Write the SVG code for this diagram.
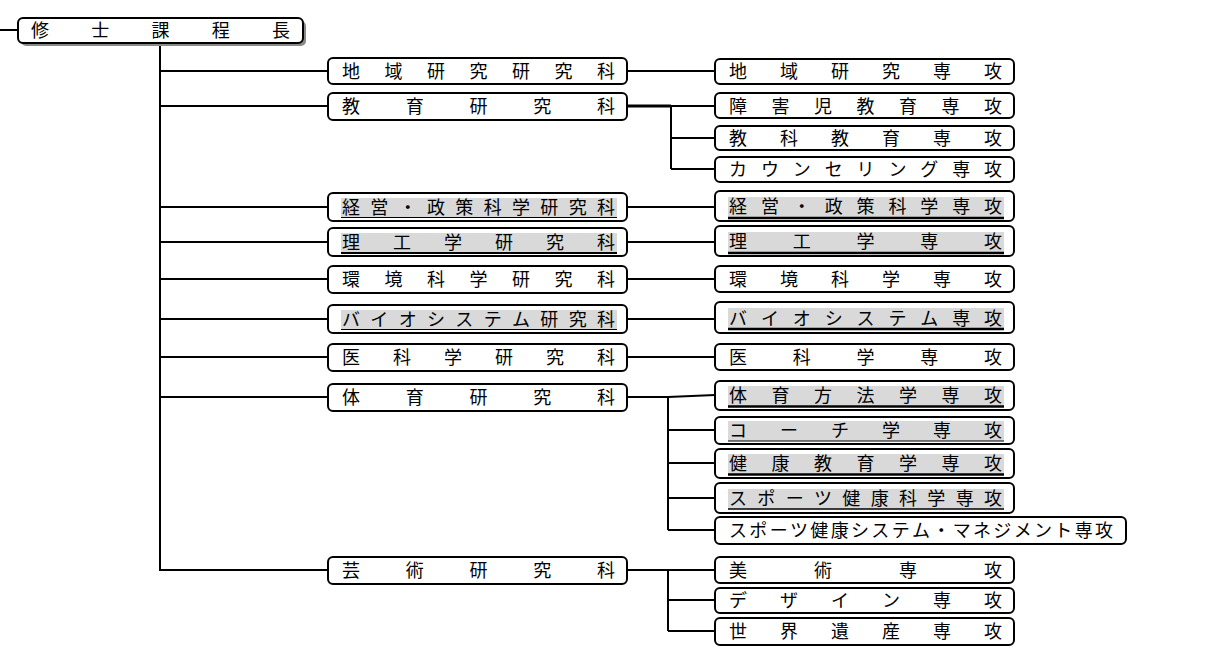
<svg xmlns="http://www.w3.org/2000/svg" width="1223" height="653" viewBox="0 0 1223 653">
<style>
.box{fill:#fff;stroke:#000;stroke-width:2}
.t{font-family:"Noto Sans CJK JP","Noto Sans CJK SC",sans-serif;font-size:18px;fill:#000}
.hl{fill:#d9d9d9}
.ul{stroke:#000}
.c{fill:none;stroke:#000;stroke-width:2}
</style>
<rect width="1223" height="653" fill="#fff"/>
<g id="connectors">
<path class="c" d="M0 30H18"/>
<path class="c" d="M160 43V570H328M160 71H328M160 106H328M160 207H328M160 242H328M160 279H328M160 319H328M160 357H328M160 397H328"/>
<path class="c" d="M627 71H715"/>
<path class="c" style="stroke-width:3" d="M627 106H671"/>
<path class="c" d="M671 106H715M671 106V169M671 138H715M671 169H715"/>
<path class="c" d="M627 207H715M627 242H715M627 279H715M627 319H715M627 357H715"/>
<path class="c" d="M627 397H668L715 395M668 396V530M668 430H715M668 463H715M668 498H715M668 530H715"/>
<path class="c" d="M627 570H715M668 570V631M668 600H715M668 631H715"/>
</g>
<g id="root">
<rect x="21" y="21" width="285" height="25" rx="5" fill="#8a8a8a"/>
<rect class="box" x="18" y="18" width="285" height="25" rx="5"/>
<text class="t" x="31 91.25 151.5 211.75 272" y="37">修士課程長</text>
</g>
<g id="n1">
<rect class="box" x="328" y="58" width="299" height="26" rx="5"/>
<text class="t" x="342 384.5 427 469.5 512 554.5 597" y="77.5">地域研究研究科</text>
</g>
<g id="n2">
<rect class="box" x="328" y="93" width="299" height="27" rx="5"/>
<text class="t" x="342 405.75 469.5 533.25 597" y="112.5">教育研究科</text>
</g>
<g id="n3">
<rect class="box" x="328" y="193" width="299" height="28" rx="5"/>
<rect class="hl" x="341" y="198" width="276" height="19"/>
<path class="ul" stroke-width="1.2" d="M341 217.5H617"/>
<text class="t" x="342 370.33 398.67 427 455.33 483.67 512 540.33 568.67 597" y="213.5">経営・政策科学研究科</text>
</g>
<g id="n4">
<rect class="box" x="328" y="228" width="299" height="28" rx="5"/>
<rect class="hl" x="341" y="233" width="276" height="19"/>
<path class="ul" stroke-width="2" d="M341 253H617"/>
<text class="t" x="342 393 444 495 546 597" y="248.5">理工学研究科</text>
</g>
<g id="n5">
<rect class="box" x="328" y="266" width="299" height="27" rx="5"/>
<text class="t" x="342 384.5 427 469.5 512 554.5 597" y="285.5">環境科学研究科</text>
</g>
<g id="n6">
<rect class="box" x="328" y="305" width="299" height="28" rx="5"/>
<rect class="hl" x="341" y="310" width="276" height="19"/>
<path class="ul" stroke-width="1.2" d="M341 329.5H617"/>
<text class="t" x="342 370.33 398.67 427 455.33 483.67 512 540.33 568.67 597" y="325.5">バイオシステム研究科</text>
</g>
<g id="n7">
<rect class="box" x="328" y="344" width="299" height="27" rx="5"/>
<text class="t" x="342 393 444 495 546 597" y="363.5">医科学研究科</text>
</g>
<g id="n8">
<rect class="box" x="328" y="384" width="299" height="27" rx="5"/>
<text class="t" x="342 405.75 469.5 533.25 597" y="403.5">体育研究科</text>
</g>
<g id="n9">
<rect class="box" x="328" y="557" width="299" height="27" rx="5"/>
<text class="t" x="342 405.75 469.5 533.25 597" y="576.5">芸術研究科</text>
</g>
<g id="m1">
<rect class="box" x="715" y="59" width="299" height="25" rx="5"/>
<text class="t" x="729 780 831 882 933 984" y="77.5">地域研究専攻</text>
</g>
<g id="m2">
<rect class="box" x="715" y="93" width="299" height="25" rx="5"/>
<text class="t" x="729 771.5 814 856.5 899 941.5 984" y="112.5">障害児教育専攻</text>
</g>
<g id="m3">
<rect class="box" x="715" y="126" width="299" height="24" rx="5"/>
<text class="t" x="729 780 831 882 933 984" y="144.5">教科教育専攻</text>
</g>
<g id="m4">
<rect class="box" x="715" y="157" width="299" height="25" rx="5"/>
<text class="t" x="729 760.875 792.75 824.625 856.5 888.375 920.25 952.125 984" y="175.5">カウンセリング専攻</text>
</g>
<g id="m5">
<rect class="box" x="715" y="191" width="299" height="30" rx="5"/>
<rect class="hl" x="728" y="197" width="276" height="20"/>
<path class="ul" stroke-width="2.5" d="M728 218H1004"/>
<text class="t" x="729 760.875 792.75 824.625 856.5 888.375 920.25 952.125 984" y="212.5">経営・政策科学専攻</text>
</g>
<g id="m6">
<rect class="box" x="715" y="226" width="299" height="30" rx="5"/>
<rect class="hl" x="728" y="232" width="276" height="20"/>
<path class="ul" stroke-width="2.5" d="M728 253H1004"/>
<text class="t" x="729 792.75 856.5 920.25 984" y="247.5">理工学専攻</text>
</g>
<g id="m7">
<rect class="box" x="715" y="266" width="299" height="26" rx="5"/>
<text class="t" x="729 780 831 882 933 984" y="285.5">環境科学専攻</text>
</g>
<g id="m8">
<rect class="box" x="715" y="302" width="299" height="31" rx="5"/>
<rect class="hl" x="728" y="308" width="276" height="20"/>
<path class="ul" stroke-width="2.5" d="M728 329H1004"/>
<text class="t" x="729 760.875 792.75 824.625 856.5 888.375 920.25 952.125 984" y="324.5">バイオシステム専攻</text>
</g>
<g id="m9">
<rect class="box" x="715" y="344" width="299" height="26" rx="5"/>
<text class="t" x="729 792.75 856.5 920.25 984" y="363.5">医科学専攻</text>
</g>
<g id="m10">
<rect class="box" x="715" y="381" width="299" height="29" rx="5"/>
<rect class="hl" x="728" y="386" width="276" height="20"/>
<path class="ul" stroke-width="2.5" d="M728 406.5H1004"/>
<text class="t" x="729 771.5 814 856.5 899 941.5 984" y="401.5">体育方法学専攻</text>
</g>
<g id="m11">
<rect class="box" x="715" y="417" width="299" height="27" rx="5"/>
<rect class="hl" x="728" y="421" width="276" height="20"/>
<path class="ul" stroke-width="1.2" d="M728 441H1004"/>
<text class="t" x="729 780 831 882 933 984" y="436.5">コーチ学専攻</text>
</g>
<g id="m12">
<rect class="box" x="715" y="449" width="299" height="29" rx="5"/>
<rect class="hl" x="728" y="454" width="276" height="20"/>
<path class="ul" stroke-width="2.5" d="M728 474.5H1004"/>
<text class="t" x="729 771.5 814 856.5 899 941.5 984" y="469.5">健康教育学専攻</text>
</g>
<g id="m13">
<rect class="box" x="715" y="483" width="299" height="30" rx="5"/>
<rect class="hl" x="728" y="489" width="276" height="20"/>
<path class="ul" stroke-width="1.5" d="M728 509H1004"/>
<text class="t" x="729 757.33 785.67 814 842.33 870.67 899 927.33 955.67 984" y="504.5">スポーツ健康科学専攻</text>
</g>
<g id="m14">
<rect class="box" x="715" y="517" width="411" height="27" rx="5"/>
<text class="t" x="729 749.33 769.67 790 810.33 830.67 851 871.33 891.67 912 932.33 952.67 973 993.33 1013.67 1034 1054.33 1074.67 1095" y="536.5">スポーツ健康システム・マネジメント専攻</text>
</g>
<g id="m15">
<rect class="box" x="715" y="557" width="299" height="26" rx="5"/>
<text class="t" x="729 814 899 984" y="576.5">美術専攻</text>
</g>
<g id="m16">
<rect class="box" x="715" y="588" width="299" height="25" rx="5"/>
<text class="t" x="729 780 831 882 933 984" y="606.5">デザイン専攻</text>
</g>
<g id="m17">
<rect class="box" x="715" y="618" width="299" height="27" rx="5"/>
<text class="t" x="729 780 831 882 933 984" y="637.5">世界遺産専攻</text>
</g>
</svg>
